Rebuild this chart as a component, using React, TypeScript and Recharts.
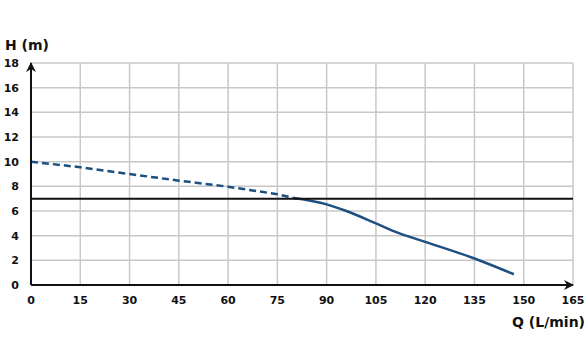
import { LineChart, Line, XAxis, YAxis, CartesianGrid, ReferenceLine } from 'recharts'

const xTicks = [0, 15, 30, 45, 60, 75, 90, 105, 120, 135, 150, 165]
const yTicks = [0, 2, 4, 6, 8, 10, 12, 14, 16, 18]

// extrapolated part of the pump curve (dashed)
const dashedQ = [0, 15, 30, 45, 60, 75, 81]
const dashedH = [10, 9.55, 9.0, 8.46, 7.97, 7.36, 7.0]

// working part of the pump curve (solid)
const solidQ = [80, 90, 96, 105, 112, 120, 135, 147]
const solidH = [7.05, 6.54, 6.0, 5.0, 4.2, 3.5, 2.15, 0.87]

const requiredHead = 7

const dashedData = dashedQ.map((q, i) => ({ q, h: dashedH[i] }))
const solidData = solidQ.map((q, i) => ({ q, h: solidH[i] }))

const curveColor = '#1d4f80'
const font = '"DejaVu Sans", sans-serif'
const tickStyle = { fontSize: 11, fontWeight: 700, fill: '#111', fontFamily: font }

export default function App() {
  return (
    <div style={{ position: 'absolute', left: 0, top: 0, width: 588, height: 338, background: '#fff' }}>
      <svg width={0} height={0} style={{ position: 'absolute' }}>
        <defs>
          <marker id="axisArrow" viewBox="0 0 10 10" refX="9" refY="5" markerWidth="5" markerHeight="5" orient="auto-start-reverse" markerUnits="strokeWidth">
            <path d="M0,0 L10,5 L0,10 L3,5 z" fill="#111" />
          </marker>
        </defs>
      </svg>
      <LineChart width={588} height={338} margin={{ top: 63, right: 15, bottom: 0, left: 0 }}>
        <CartesianGrid stroke="#c8c8c8" strokeWidth={1.5} />
        <XAxis
          dataKey="q"
          type="number"
          domain={[0, 165]}
          ticks={xTicks}
          interval={0}
          height={53}
          tickLine={false}
          tickMargin={5}
          tick={tickStyle}
          axisLine={{ stroke: '#111', strokeWidth: 2, markerEnd: 'url(#axisArrow)' }}
        />
        <YAxis
          dataKey="h"
          type="number"
          domain={[0, 18]}
          ticks={yTicks}
          interval={0}
          width={31}
          tickLine={false}
          tickMargin={6}
          tick={tickStyle}
          axisLine={{ stroke: '#111', strokeWidth: 2, markerStart: 'url(#axisArrow)' }}
        />
        <Line
          data={dashedData}
          dataKey="h"
          type="linear"
          stroke={curveColor}
          strokeWidth={2.5}
          strokeDasharray="7 4"
          dot={false}
          isAnimationActive={false}
        />
        <Line
          data={solidData}
          dataKey="h"
          type="monotone"
          stroke={curveColor}
          strokeWidth={2.5}
          dot={false}
          isAnimationActive={false}
        />
        <ReferenceLine y={requiredHead} stroke="#111" strokeWidth={2} />
      </LineChart>
      <div style={{ position: 'absolute', left: 5, top: 36, fontFamily: font, fontWeight: 700, fontSize: 14, color: '#111', lineHeight: '18px' }}>
        H (m)
      </div>
      <div style={{ position: 'absolute', right: 3, top: 313, fontFamily: font, fontWeight: 700, fontSize: 14, color: '#111', lineHeight: '18px' }}>
        Q (L/min)
      </div>
    </div>
  )
}
